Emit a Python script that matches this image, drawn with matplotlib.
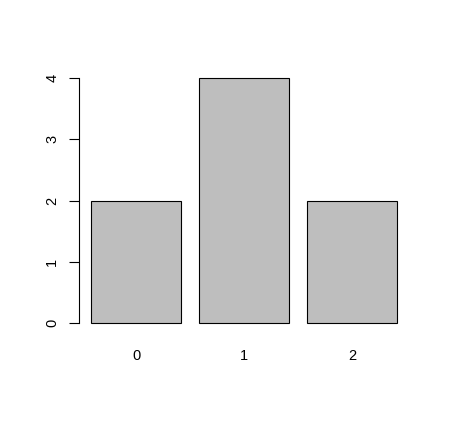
import matplotlib.pyplot as plt

categories = ["0", "1", "2"]
counts = [2, 4, 2]
y_ticks = [0, 1, 2, 3, 4]

plt.rcParams['font.family'] = ['Liberation Sans', 'DejaVu Sans']

W, H = 449, 424
fig = plt.figure(figsize=(W / 100, H / 100), dpi=100)
left, right, top, bottom = 78.8, 409.2, 68.2, 332.8
ax = fig.add_axes([left / W, 1 - bottom / H, (right - left) / W, (bottom - top) / H])

# R-style barplot: width 1, space 0.2
xs = [0.2 + 1.2 * i + 0.5 for i in range(len(counts))]
ax.bar(xs, counts, width=1.0, color='#bebebe', edgecolor='black', linewidth=0.8)

ax.set_xlim(0.064, 3.736)
ax.set_ylim(-0.16, 4.16)

for s in ['top', 'right', 'bottom']:
    ax.spines[s].set_visible(False)
ax.spines['left'].set_bounds(0, 4)
ax.spines['left'].set_linewidth(0.8)

ax.set_xticks(xs)
ax.set_xticklabels(categories, fontsize=10.5)
ax.tick_params(axis='x', length=0, pad=12)

ax.set_yticks(y_ticks)
ax.set_yticklabels([str(v) for v in y_ticks], fontsize=10.5, rotation=90, va='center')
ax.tick_params(axis='y', length=7, width=0.8, pad=7)

fig.savefig('out.png', dpi=100)
